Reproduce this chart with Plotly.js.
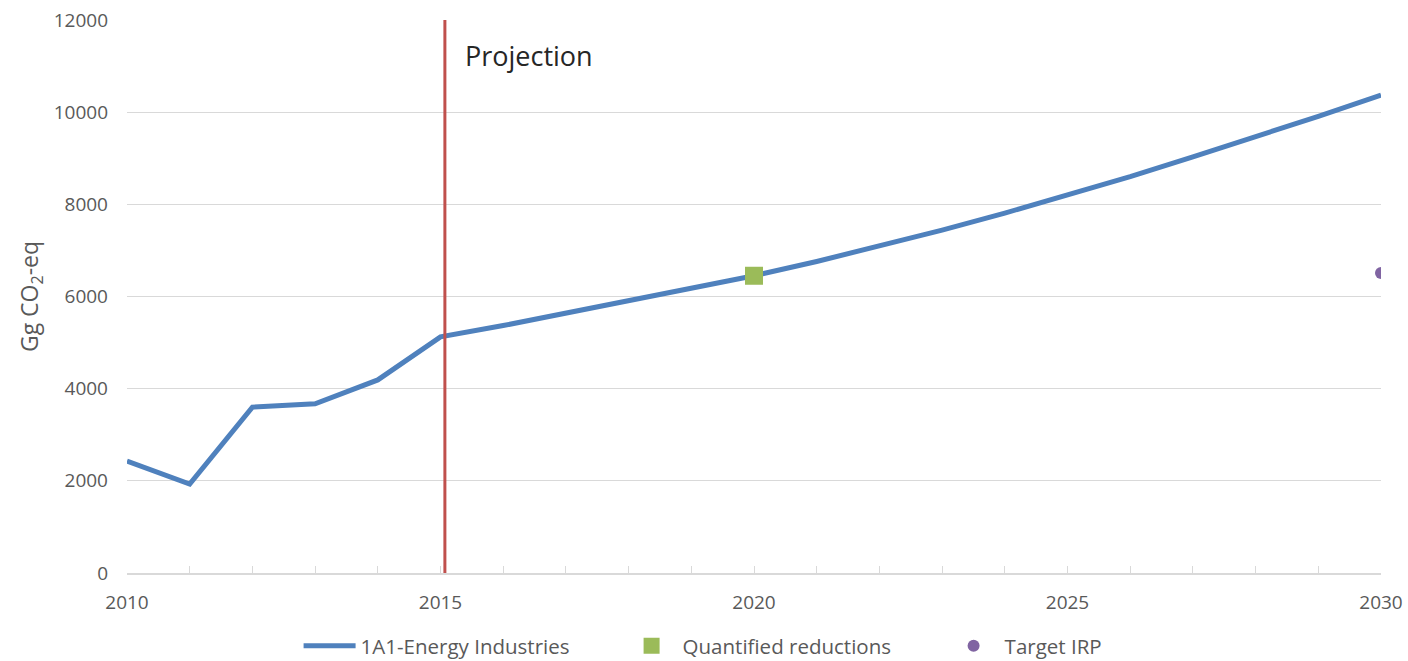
<!DOCTYPE html>
<html>
<head>
<meta charset="utf-8">
<script src="https://cdn.plot.ly/plotly-3.0.1.min.js"></script>
<style>html,body{margin:0;padding:0;background:#fff;}#chart{width:1408px;height:661px;}</style>
</head>
<body>
<div id="chart"></div>
<script>
const years = [2010,2011,2012,2013,2014,2015,2016,2017,2018,2019,2020,2021,2022,2023,2024,2025,2026,2027,2028,2029,2030];
const energyIndustries = [2430,1930,3600,3670,4190,5125,5370,5640,5910,6190,6450,6760,7090,7440,7810,8200,8600,9030,9460,9910,10370];
const quantifiedYears = [2020];
const quantifiedReductions = [6450];
const targetYears = [2030];
const targetIRP = [6510];
const projectionYear = 2015.07;
const xTickVals = [2010,2015,2020,2025,2030];
const xTickText = ['2010','2015','2020','2025','2030'];
const yTickVals = [0,2000,4000,6000,8000,10000,12000];
const yTickText = ['0','2000','4000','6000','8000','10000','12000'];

const FONT = '"Open Sans", Lato, sans-serif';
const traces = [
  {x: years, y: energyIndustries, type:'scatter', mode:'lines', name:'1A1-Energy Industries',
   line:{color:'#4f81bd', width:5}},
  {x: quantifiedYears, y: quantifiedReductions, type:'scatter', mode:'markers', name:'Quantified reductions',
   marker:{symbol:'square', size:18, color:'#9bbb59'}},
  {x: targetYears, y: targetIRP, type:'scatter', mode:'markers', name:'Target IRP',
   marker:{symbol:'circle', size:12, color:'#8064a2'}}
];
const layout = {
  width:1408, height:661,
  margin:{l:127, r:27, t:20, b:88, autoexpand:false},
  paper_bgcolor:'#fff', plot_bgcolor:'#fff',
  font:{family:FONT, color:'#595959', size:19},
  showlegend:true,
  legend:{orientation:'h', x:0.522, xanchor:'center', y:-0.132, yanchor:'middle',
          font:{size:20.5, color:'#595959', family:FONT}, itemwidth:52, traceorder:'normal',
          entrywidth:255},
  xaxis:{range:[2010,2030], tickvals:xTickVals, ticktext:xTickText, showgrid:false, zeroline:false,
         showline:true, linecolor:'#d9d9d9', linewidth:1.5,
         ticks:'inside', ticklen:7, tickcolor:'#d9d9d9', tickwidth:1,
         minor:{dtick:1, ticks:'inside', ticklen:7, tickcolor:'#d9d9d9', tickwidth:1, showgrid:false},
         ticklabelstandoff:12, tickfont:{size:19, color:'#595959'}},
  yaxis:{range:[0,12000], tickvals:yTickVals, ticktext:yTickText, showgrid:true, gridcolor:'#d9d9d9', gridwidth:1.3,
         zeroline:false, showline:false, ticks:'', ticklabelstandoff:18,
         tickfont:{size:19, color:'#595959'},
         title:{text:'Gg CO<sub>2</sub>-eq', font:{size:23, color:'#595959'}, standoff:8}},
  shapes:[{type:'line', xref:'x', yref:'paper', x0:projectionYear, x1:projectionYear, y0:0, y1:1,
           line:{color:'#c0504d', width:3}}],
  annotations:[{xref:'x', yref:'paper', x:projectionYear, y:0.935, xanchor:'left', yanchor:'middle',
                xshift:18, text:'Projection', showarrow:false, font:{size:27, color:'#262626', family:FONT}}]
};
Plotly.newPlot('chart', traces, layout, {displayModeBar:false, staticPlot:true});
</script>
</body>
</html>
